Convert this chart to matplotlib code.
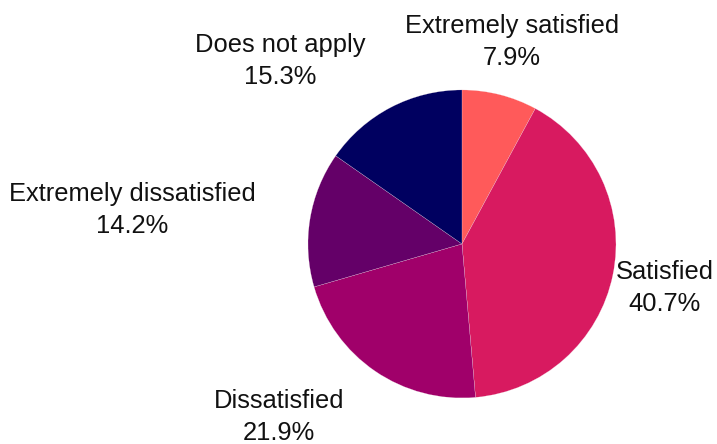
import matplotlib
matplotlib.use("Agg")
import matplotlib.pyplot as plt

# survey answers, clockwise from the top
categories = ["Extremely satisfied", "Satisfied", "Dissatisfied",
              "Extremely dissatisfied", "Does not apply"]
shares = [7.9, 40.7, 21.9, 14.2, 15.3]
colors = ["#ff5a5a", "#d81a60", "#a0006a", "#640068", "#000060"]

# where each label sits, in pie radius units
label_pos = [(0.325, 1.31), (1.318, -0.286), (-1.188, -1.125),
             (-2.143, 0.221), (-1.182, 1.188)]


def main():
    plt.rcParams["font.family"] = ["Liberation Sans", "DejaVu Sans"]
    fig = plt.figure(figsize=(7.17, 4.44), dpi=100)
    ax = fig.add_axes([0, 0, 1, 1])

    ax.pie(shares, colors=colors, startangle=90, counterclock=False,
           radius=1, wedgeprops=dict(edgecolor="#f4e4ea", linewidth=0.15))

    for name, val, (x, y) in zip(categories, shares, label_pos):
        ax.text(x, y, f"{name}\n{val}%", ha="center", va="center",
                fontsize=18.4, linespacing=1.45, color="#111111")

    ax.set_xlim(-3.0, 1.656)
    ax.set_ylim(-1.299, 1.584)
    ax.set_aspect("auto")
    ax.axis("off")

    fig.savefig("out.png", dpi=100)


if __name__ == "__main__":
    main()
